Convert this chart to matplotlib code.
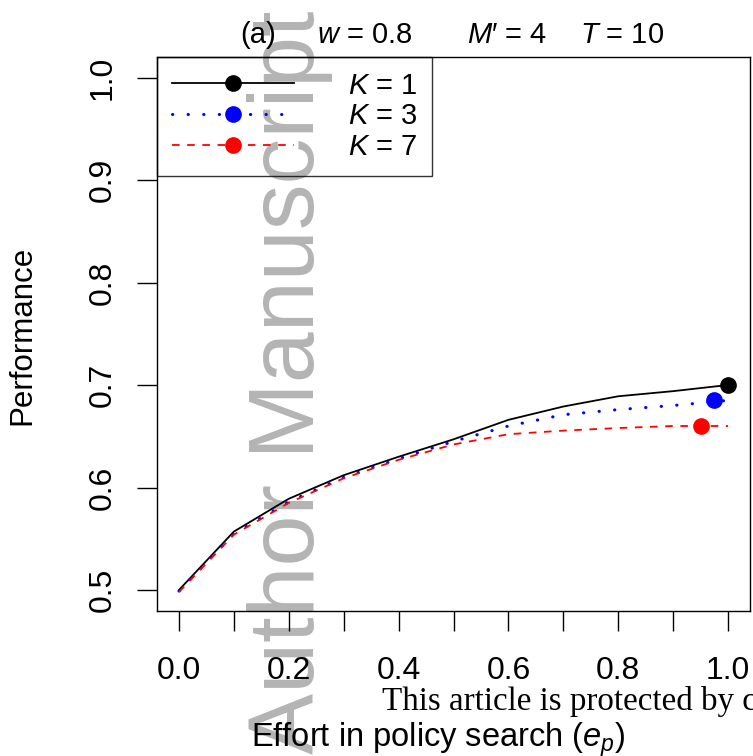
"""
Performance vs. effort in policy search for K = 1, 3, 7 (panel a)
"""
import matplotlib
matplotlib.use('Agg')
import matplotlib.pyplot as plt
from matplotlib.lines import Line2D

plt.rcParams['font.family'] = ['Liberation Sans', 'DejaVu Sans']
plt.rcParams['mathtext.fontset'] = 'custom'
plt.rcParams['mathtext.rm'] = 'Liberation Sans'
plt.rcParams['mathtext.it'] = 'Liberation Sans:italic'
plt.rcParams['mathtext.bf'] = 'Liberation Sans:bold'

# effort levels and mean performance per K
effort = [0.0, 0.1, 0.2, 0.3, 0.4, 0.5, 0.6, 0.7, 0.8, 0.9, 1.0]
perf_k1 = [0.500, 0.557, 0.589, 0.612, 0.630, 0.647, 0.666, 0.679, 0.689, 0.694, 0.700]
perf_k3 = [0.499, 0.555, 0.586, 0.610, 0.628, 0.645, 0.660, 0.671, 0.676, 0.680, 0.685]
perf_k7 = [0.498, 0.554, 0.585, 0.609, 0.627, 0.642, 0.652, 0.6555, 0.658, 0.660, 0.660]

# end-point markers are nudged left so they don't overlap
marker_x = [1.0, 0.975, 0.95]

series_labels = [r'$K$ = 1', r'$K$ = 3', r'$K$ = 7']
x_ticks = [0.0, 0.1, 0.2, 0.3, 0.4, 0.5, 0.6, 0.7, 0.8, 0.9, 1.0]
x_ticklabels = ['0.0', '', '0.2', '', '0.4', '', '0.6', '', '0.8', '', '1.0']
y_ticks = [0.5, 0.6, 0.7, 0.8, 0.9, 1.0]
y_ticklabels = ['0.5', '0.6', '0.7', '0.8', '0.9', '1.0']

W, H = 753, 756
fig = plt.figure(figsize=(W / 100, H / 100), dpi=100)
ax = fig.add_axes([157 / W, 1 - 610.5 / H, (750 - 157) / W, (610.5 - 57) / H])
ax.set_zorder(1)
ax.patch.set_facecolor('none')

# grey "Author Manuscript" stamp under the plot
fig.text(314 / W, 1 - 754 / H, 'Author Manuscript', rotation=90,
         rotation_mode='anchor', ha='left', va='baseline',
         fontsize=66, color='#b4b4b4', zorder=0)

styles = [
    dict(color='black', ls='-', lw=1.3),
    dict(color='#0000ff', ls=(0, (0.1, 5.0)), lw=2.2, dash_capstyle='round'),
    dict(color='#ff0000', ls=(0, (4.2, 4.2)), lw=1.3),
]
for ys, st, mx in zip([perf_k1, perf_k3, perf_k7], styles, marker_x):
    ax.plot(effort, ys, **st)
    ax.plot([mx], [ys[-1]], 'o', color=st['color'], ms=11, zorder=3)

ax.set_xlim(-0.04, 1.04)
ax.set_ylim(0.48, 1.02)
ax.set_xticks(x_ticks)
ax.set_xticklabels(x_ticklabels, fontsize=23)
ax.set_yticks(y_ticks)
ax.set_yticklabels(y_ticklabels, fontsize=23, rotation=90, va='center')
ax.tick_params(axis='x', length=14.5, width=1.0, pad=18)
ax.tick_params(axis='y', length=14.5, width=1.0, pad=14)
for sp in ax.spines.values():
    sp.set_linewidth(1.0)
    sp.set_color('black')

ax.set_xlabel(r'Effort in policy search ($e_p$)', fontsize=23.5)
ax.xaxis.set_label_coords((438 - 157) / (750 - 157), (610.5 - 747) / (610.5 - 57))
ax.xaxis.label.set_va('baseline')
ax.set_ylabel('Performance', fontsize=22.5)
ax.yaxis.set_label_coords((22.5 - 157) / (750 - 157), (610.5 - 335) / (610.5 - 57))
ax.yaxis.label.set_va('center')

handles = [Line2D([], [], marker='o', ms=11, **st) for st in styles]
leg = ax.legend(handles, series_labels, loc='upper left', borderaxespad=0,
                fontsize=21, handlelength=4.2, handletextpad=1.85,
                borderpad=0.5, labelspacing=0.1, numpoints=1,
                fancybox=False, edgecolor='black', facecolor='none',
                framealpha=None)
leg.get_frame().set_linewidth(1.0)

# panel title pieces
title_parts = [(240, '(a)'), (317, r'$w$ = 0.8'), (467, r'$M$′ = 4'), (580, r'$T$ = 10')]
for px, s in title_parts:
    fig.text(px / W, 1 - 43 / H, s, ha='left', va='baseline', fontsize=21)

fig.text(382 / W, 1 - 710 / H,
         'This article is protected by copyright. All rights reserved',
         family='Liberation Serif', fontsize=23.8, ha='left', va='baseline')

fig.savefig('out.png', dpi=100)
